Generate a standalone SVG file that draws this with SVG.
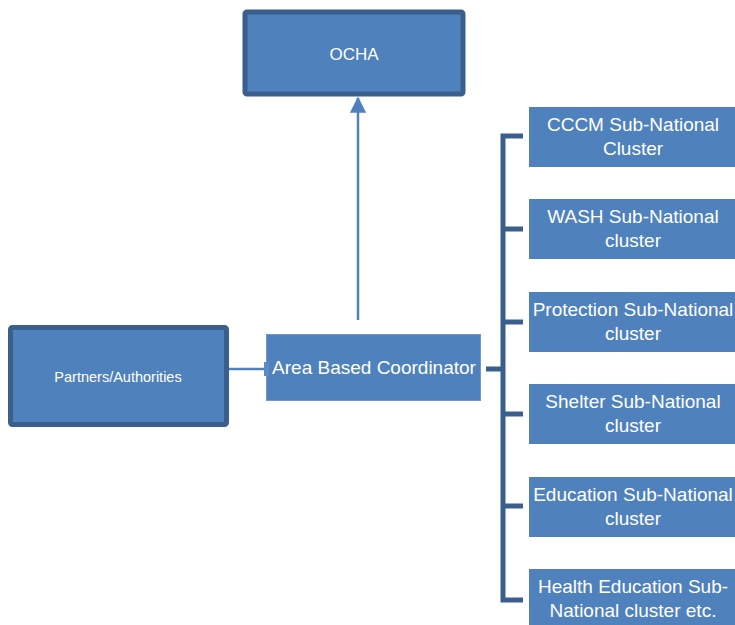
<svg xmlns="http://www.w3.org/2000/svg" width="735" height="625" viewBox="0 0 735 625">
  <defs>
    <style>
      .heavy { fill: #4F81BD; stroke: #3A5F8C; stroke-width: 5; }
      .plain { fill: #4F81BD; }
      .coord { fill: #4F81BD; stroke: #7098CC; stroke-width: 1; }
      .lbl { font-family: "Liberation Sans", "DejaVu Sans", sans-serif; fill: #FFFFFF; text-anchor: middle; }
      .big { font-size: 19px; }
      .mid { font-size: 17px; }
      .small { font-size: 14.5px; }
      .bracket { stroke: #3A5F8C; stroke-width: 5; fill: none; }
      .link { stroke: #4F81BD; stroke-width: 2.5; fill: none; }
    </style>
    <!-- arrowhead drawn at the tip of the upward link -->
    <marker id="arrowHead" viewBox="0 0 10 10" refX="9" refY="5" markerWidth="6.5" markerHeight="6.5" orient="auto" markerUnits="strokeWidth">
      <path d="M0,0 L10,5 L0,10 Z" fill="#4F81BD"/>
    </marker>
  </defs>

  <rect width="735" height="625" fill="#FFFFFF"/>

  <g id="connectors">
    <line class="link" x1="358" y1="320" x2="358" y2="98" marker-end="url(#arrowHead)"/>
    <line class="link" x1="229" y1="369" x2="266" y2="369"/>
    <line class="bracket" x1="486" y1="369" x2="503" y2="369"/>
    <path class="bracket" d="M523,136 H503 V600 H523"/>
    <line class="bracket" x1="503" y1="229" x2="523" y2="229"/>
    <line class="bracket" x1="503" y1="322" x2="523" y2="322"/>
    <line class="bracket" x1="503" y1="414" x2="523" y2="414"/>
    <line class="bracket" x1="503" y1="506" x2="523" y2="506"/>
  </g>

  <g id="ocha">
    <rect class="heavy" x="245" y="12" width="218" height="82" rx="2"/>
    <text class="lbl mid" x="354" y="60">OCHA</text>
  </g>

  <g id="partners">
    <rect class="heavy" x="10.5" y="327.5" width="216" height="97" rx="2"/>
    <text class="lbl small" x="118" y="382">Partners/Authorities</text>
  </g>

  <g id="area-coordinator">
    <rect class="coord" x="266.5" y="334.5" width="214" height="66"/>
    <rect x="264" y="362" width="5" height="14" fill="#5A89C4"/>
    <text class="lbl big" x="374" y="374">Area Based Coordinator</text>
  </g>

  <g id="cccm">
    <rect class="plain" x="529" y="107" width="210" height="60"/>
    <text class="lbl big" x="633" y="131">CCCM Sub-National</text>
    <text class="lbl big" x="633" y="155">Cluster</text>
  </g>

  <g id="wash">
    <rect class="plain" x="529" y="199" width="210" height="60"/>
    <text class="lbl big" x="633" y="223">WASH Sub-National</text>
    <text class="lbl big" x="633" y="247">cluster</text>
  </g>

  <g id="protection">
    <rect class="plain" x="529" y="292" width="210" height="60"/>
    <text class="lbl big" x="633" y="316">Protection Sub-National</text>
    <text class="lbl big" x="633" y="340">cluster</text>
  </g>

  <g id="shelter">
    <rect class="plain" x="529" y="384" width="210" height="60"/>
    <text class="lbl big" x="633" y="408">Shelter Sub-National</text>
    <text class="lbl big" x="633" y="432">cluster</text>
  </g>

  <g id="education">
    <rect class="plain" x="529" y="477" width="210" height="60"/>
    <text class="lbl big" x="633" y="501">Education Sub-National</text>
    <text class="lbl big" x="633" y="525">cluster</text>
  </g>

  <g id="health">
    <rect class="plain" x="529" y="569" width="210" height="60"/>
    <text class="lbl big" x="633" y="593">Health Education Sub-</text>
    <text class="lbl big" x="633" y="617">National cluster etc.</text>
  </g>
</svg>
